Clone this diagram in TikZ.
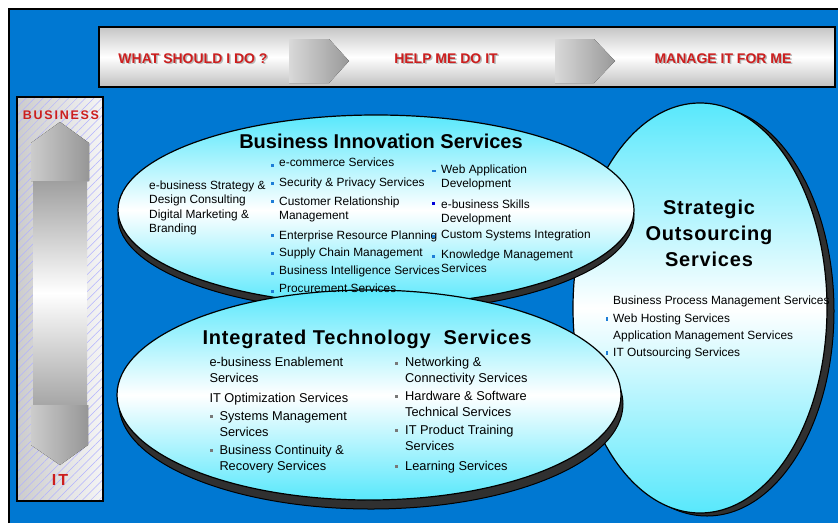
\documentclass[tikz,border=0pt]{standalone}
\usepackage{fontspec}
\setmainfont{Liberation Sans}
\newfontfamily\widefont[LetterSpace=14]{Liberation Sans}
\newfontfamily\titlefont[LetterSpace=4]{Liberation Sans}
\usetikzlibrary{patterns.meta}
\definecolor{bgblue}{RGB}{0,120,210}
\definecolor{ovalcyan}{RGB}{88,232,252}
\definecolor{rimgray}{RGB}{48,48,48}
\definecolor{headred}{RGB}{204,30,30}
\definecolor{dotblue}{RGB}{30,125,215}
\definecolor{dotgray}{RGB}{120,120,120}

\begin{document}
\begin{tikzpicture}[x=1pt, y=-1pt,
  oval/.style={draw=black, line width=1.2pt, top color=ovalcyan, bottom color=ovalcyan, middle color=white},
  rim/.style={draw=black, line width=1pt, fill=rimgray},
  bantext/.style={anchor=base, inner sep=0pt, font=\fontsize{14}{16}\selectfont\bfseries},
  ovaltitle/.style={anchor=base, inner sep=0pt, align=center, font=\fontsize{20}{26}\selectfont\bfseries},
  item/.style={anchor=base west, inner sep=0pt, align=left, font=\fontsize{11.9}{14}\selectfont},
  ititem/.style={anchor=base west, inner sep=0pt, align=left, font=\fontsize{12.8}{16}\selectfont},
  chip/.style={left color=gray!30, right color=gray!80}]
  \useasboundingbox (0,0) rectangle (838,523);
  % Hintergrund
  \fill[white] (0,0) rectangle (838,523);
  \fill[bgblue] (10,10) rectangle (838,523);
  \draw[line width=1.5pt] (9,523) -- (9,9) -- (838,9);
  % Leiste oben
  \draw[line width=1.6pt, top color=gray!45, bottom color=gray!50, middle color=white] (99,27) rectangle (835,87);
  \fill[chip] (289,39) -- (329,39) -- (349,61) -- (329,83) -- (289,83) -- cycle;
  \fill[chip] (555,39) -- (594,39) -- (615,61) -- (594,83) -- (555,83) -- cycle;
  \node[bantext, gray!55] (what-sh) at (194.5,64.8) {WHAT SHOULD I DO ?};
  \node[bantext, headred] (what) at (193,63.3) {WHAT SHOULD I DO ?};
  \node[bantext, gray!55] (help-sh) at (447.5,64.8) {HELP ME DO IT};
  \node[bantext, headred] (help) at (446,63.3) {HELP ME DO IT};
  \node[bantext, gray!55] (manage-sh) at (724.5,64.8) {MANAGE IT FOR ME};
  \node[bantext, headred] (manage) at (723,63.3) {MANAGE IT FOR ME};
  % Leiste links (Business - IT)
  \fill[left color=gray!40, right color=gray!8] (17,97) rectangle (103,501);
  \fill[pattern={Lines[angle=45, distance=6pt, line width=0.5pt]}, pattern color=blue!30] (17,97) rectangle (103,501);
  \draw[line width=1.5pt] (17,97) rectangle (103,501);
  \fill[left color=gray!40, right color=gray!82] (31,181) -- (31,143) -- (60,122) -- (89,143) -- (89,181) -- cycle;
  \fill[top color=gray!75, bottom color=gray!70, middle color=white] (33,181) rectangle (87,405);
  \fill[left color=gray!40, right color=gray!82] (31,405) -- (31,445) -- (60,465) -- (88,445) -- (88,405) -- cycle;
  \node[anchor=base, inner sep=0pt, headred, font=\widefont\fontsize{12.5}{14}\selectfont\bfseries] (business) at (61,119) {BUSINESS};
  \node[anchor=base, inner sep=0pt, headred, font=\widefont\fontsize{16}{18}\selectfont\bfseries] (it) at (60,485) {IT};
  % Ovale (hinten nach vorne)
  \draw[rim] (707,311) ellipse [x radius=127pt, y radius=205pt];
  \draw[oval] (700,308) ellipse [x radius=127pt, y radius=205pt];
  \draw[rim] (376,217) ellipse [x radius=258pt, y radius=95pt];
  \draw[oval] (376,210) ellipse [x radius=258pt, y radius=95pt];
  \draw[rim] (371,404) ellipse [x radius=252pt, y radius=105pt];
  \draw[oval] (369,395) ellipse [x radius=252pt, y radius=105pt];
  % Business Innovation Services (y = Grundlinie der letzten Zeile)
  \node[ovaltitle] (bis) at (381,148.3) {Business Innovation Services};
  \node[item] (bis-strategy) at (149,203) {e-business Strategy \&\\Design Consulting};
  \node[item] (bis-digital) at (149,232) {Digital Marketing \&\\Branding};
  \node[item] (bis-ecom) at (279,166.7) {e-commerce Services};
  \node[item] (bis-security) at (279,186.7) {Security \& Privacy Services};
  \node[item] (bis-crm) at (279,219) {Customer Relationship\\Management};
  \node[item] (bis-erp) at (279,239) {Enterprise Resource Planning};
  \node[item] (bis-supply) at (279,256.7) {Supply Chain Management};
  \node[item] (bis-bi) at (279,274.5) {Business Intelligence Services};
  \node[item] (bis-procure) at (279,292.7) {Procurement Services};
  \node[item] (bis-webapp) at (441,187.5) {Web Application\\Development};
  \node[item] (bis-skills) at (441,222.7) {e-business Skills\\Development};
  \node[item] (bis-custom) at (441,238.5) {Custom Systems Integration};
  \node[item] (bis-km) at (441,272.5) {Knowledge Management\\Services};
  \foreach \by in {165,183.3,201.7,235.7,253.3,273.3,291.7}
    \fill[dotblue] (270.5,\by-1.5) rectangle ++(3,3);
  \fill[dotblue] (431.5,170) rectangle ++(4,1.5);
  \fill[blue!85!black] (432,201.8) rectangle ++(3,3);
  \foreach \by in {236.7,256}
    \fill[dotblue] (432,\by-1.5) rectangle ++(3,3);
  % Strategic Outsourcing Services
  \node[ovaltitle, font=\titlefont\fontsize{20}{26}\selectfont\bfseries] (sos) at (709,266.7) {Strategic\\Outsourcing\\Services};
  \node[item] (sos-bpm) at (613,304) {Business Process Management Services};
  \node[item] (sos-hosting) at (613,322) {Web Hosting Services};
  \node[item] (sos-apps) at (613,339) {Application Management Services};
  \node[item] (sos-outsource) at (613,356.7) {IT Outsourcing Services};
  \foreach \by in {319.3,353.3}
    \fill[dotblue] (605.7,\by-2) rectangle ++(2,4);
  % Integrated Technology Services
  \node[ovaltitle, font=\titlefont\fontsize{20}{26}\selectfont\bfseries] (its) at (367,344.3) {Integrated Technology\ \ Services};
  \node[ititem] (its-enable) at (209.3,382.7) {e-business Enablement\\Services};
  \node[ititem] (its-optim) at (209.3,402.7) {IT Optimization Services};
  \node[ititem] (its-sysmgmt) at (219.3,436.7) {Systems Management\\Services};
  \node[ititem] (its-continuity) at (219.3,470.5) {Business Continuity \&\\Recovery Services};
  \node[ititem] (its-network) at (405,382.7) {Networking \&\\Connectivity Services};
  \node[ititem] (its-hwsw) at (405,416.7) {Hardware \& Software\\Technical Services};
  \node[ititem] (its-training) at (405,450) {IT Product Training\\Services};
  \node[ititem] (its-learning) at (405,470) {Learning Services};
  \foreach \by in {416.7,450.7}
    \fill[dotgray] (210.2,\by-1.5) rectangle ++(3,3);
  \foreach \by in {363.3,396.7,430.7,466.7}
    \fill[dotgray] (394.5,\by-1.5) rectangle ++(3,3);
\end{tikzpicture}
\end{document}
